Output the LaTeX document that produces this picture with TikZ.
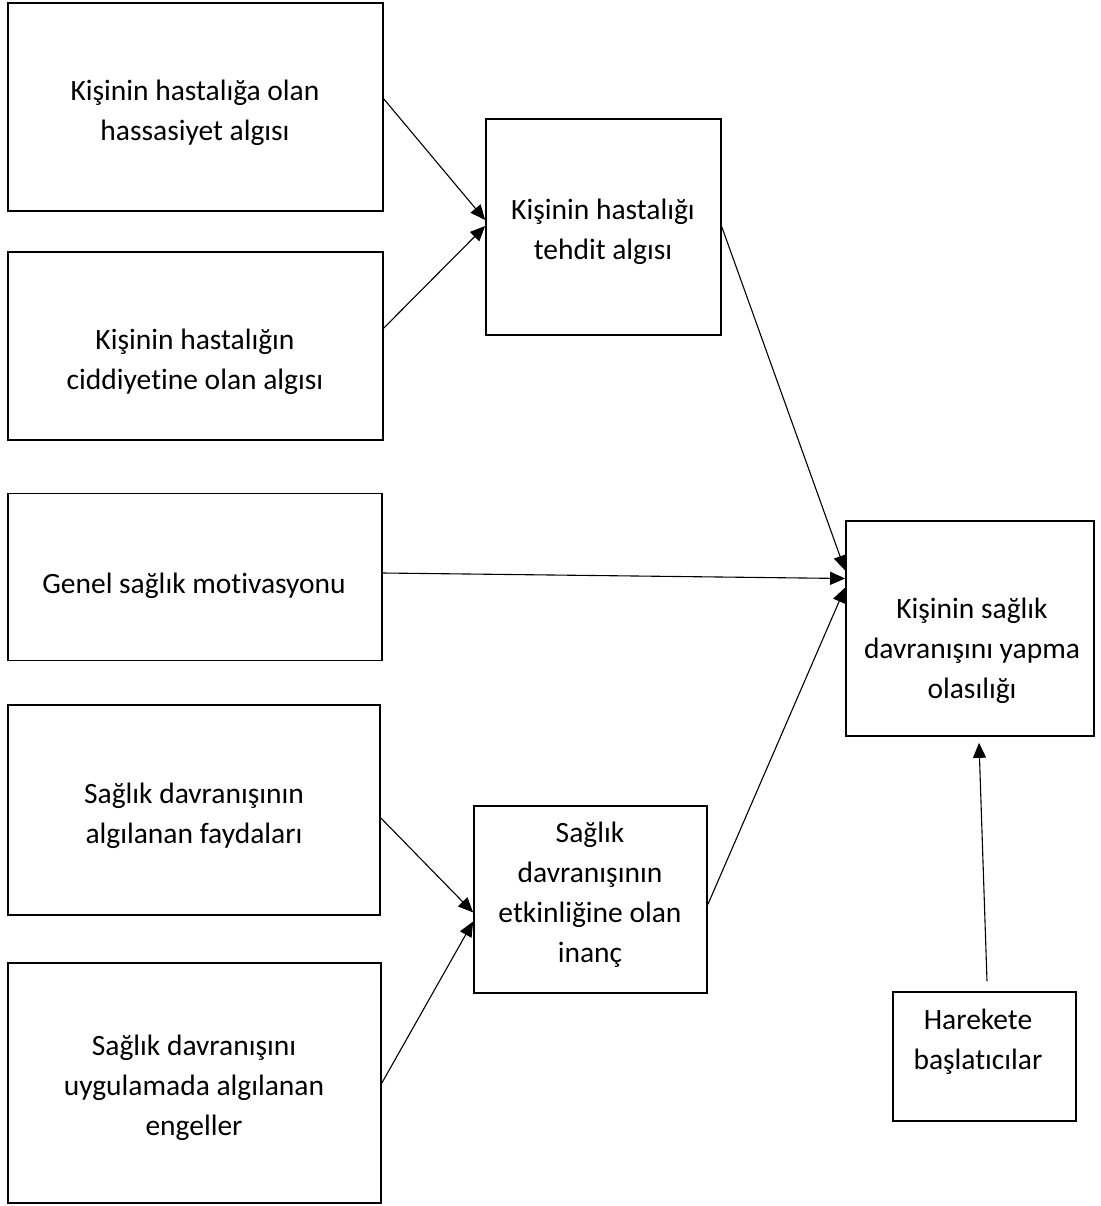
\documentclass[tikz,border=0pt]{standalone}
\usepackage{fontspec}
\setmainfont{Carlito}[Ligatures={NoCommon,NoContextual,NoRare}]
\usepackage{tikz}
\usetikzlibrary{arrows.meta,positioning}

\begin{document}
\begin{tikzpicture}[x=1pt, y=-1pt,
    >={Triangle[length=15pt,width=13pt]},
    frame/.style={draw, line width=1.7pt, inner sep=0pt},
    lbl/.style={font=\fontsize{29.5}{40}\selectfont, align=center, inner sep=0pt},
    link/.style={->, line width=1.1pt}]

    \useasboundingbox (0,0) rectangle (1100,1206);

    % left column - the factors
    \node[frame, minimum width=375, minimum height=208] (susc) at (195.5,107) {};
    \node[lbl] (suscT) at (195,113) {Kişinin hastalığa olan\\hassasiyet algısı};

    \node[frame, minimum width=375, minimum height=188] (sev) at (195.5,346) {};
    \node[lbl] (sevT) at (195,362) {Kişinin hastalığın\\ciddiyetine olan algısı};

    \node[frame, minimum width=374, minimum height=167] (motiv) at (195,577) {};
    \node[lbl] (motivT) at (194,586) {Genel sağlık motivasyonu};

    \node[frame, minimum width=372, minimum height=210] (benef) at (194,810) {};
    \node[lbl] (benefT) at (194,816) {Sağlık davranışının\\algılanan faydaları};

    \node[frame, minimum width=373, minimum height=240] (barr) at (194.5,1083) {};
    \node[lbl] (barrT) at (194,1088) {Sağlık davranışını\\uygulamada algılanan\\engeller};

    % middle column
    \node[frame, minimum width=235, minimum height=216] (threat) at (603.5,227) {};
    \node[lbl] (threatT) at (603,232) {Kişinin hastalığı\\tehdit algısı};

    \node[frame, minimum width=233, minimum height=187] (belief) at (590.5,899.5) {};
    \node[lbl] (beliefT) at (590,895) {Sağlık\\davranışının\\etkinliğine olan\\inanç};

    % right column
    \node[frame, minimum width=248, minimum height=215] (likely) at (970,628.5) {};
    \node[lbl] (likelyT) at (972,651) {Kişinin sağlık\\davranışını yapma\\olasılığı};

    \node[frame, minimum width=183, minimum height=129] (cues) at (984.5,1056.5) {};
    \node[lbl] (cuesT) at (978,1042) {Harekete\\başlatıcılar};

    % arrows
    \draw[link] ([yshift=8pt]susc.east) -- ([yshift=7pt]threat.west);
    \draw[link] ([yshift=18pt]sev.east) -- ([yshift=1pt]threat.west);
    \draw[link] (threat.east) -- ([yshift=58pt]likely.west);
    \draw[link] ([yshift=4pt]motiv.east) -- ([yshift=50pt]likely.west);
    \draw[link] ([yshift=-5pt]belief.east) -- ([yshift=41pt]likely.west);
    \draw[link] ([yshift=-8pt]benef.east) -- ([yshift=-13pt]belief.west);
    \draw[link] (barr.east) -- ([yshift=-22pt]belief.west);
    \draw[link] ([shift={(2.5pt,10pt)}]cues.north) -- ([shift={(9pt,-6pt)}]likely.south);

\end{tikzpicture}
\end{document}
